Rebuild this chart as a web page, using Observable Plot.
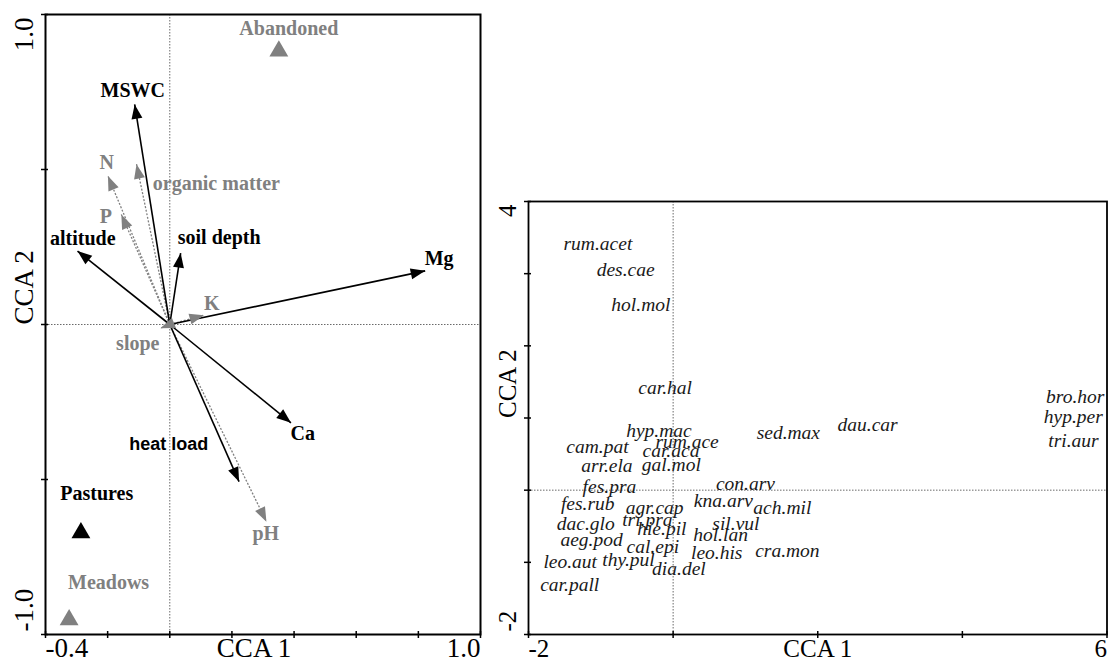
<!DOCTYPE html>
<html><head><meta charset="utf-8">
<script src="https://cdn.jsdelivr.net/npm/d3@7"></script>
<script src="https://cdn.jsdelivr.net/npm/@observablehq/plot@0.6"></script>
<style>
html,body{margin:0;padding:0;background:#fff;}
#wrap{position:relative;width:1108px;height:671px;overflow:hidden;background:#fff;}
#wrap svg{position:absolute;top:0;}
</style></head><body><div id="wrap"></div>
<script>
// ---------- Left panel: environmental variables (CCA biplot) ----------
const envNames = ["MSWC","N","organic matter","P","altitude","soil depth","Mg","K","slope","Ca","heat load","pH"];
const envCCA1 = [-0.113,-0.199,-0.107,-0.156,-0.297,0.035,0.822,0.11,-0.03,0.39,0.223,0.311];
const envCCA2 = [0.71,0.479,0.517,0.355,0.237,0.23,0.173,0.03,-0.012,-0.317,-0.507,-0.636];
const envSignificant = [true,false,false,false,true,true,true,false,false,true,true,false];
const envLabelCCA1 = [-0.119,-0.203,0.15,-0.206,-0.28,0.159,0.867,0.135,-0.103,0.428,-0.003,0.309];
const envLabelCCA2 = [0.753,0.521,0.456,0.347,0.276,0.279,0.211,0.069,-0.062,-0.353,-0.385,-0.676];

const siteNames = ["Abandoned","Pastures","Meadows"];
const siteCCA1 = [0.351,-0.286,-0.324];
const siteCCA2 = [0.882,-0.672,-0.953];
const siteSignificant = [false,true,false];
const siteLabelCCA1 = [0.383,-0.235,-0.197];
const siteLabelCCA2 = [0.956,-0.547,-0.834];

const leftXTicks = [-0.4,-0.2,0,0.2,0.4,0.6,0.8,1.0];
const leftYTicks = [-1,-0.5,0,0.5,1];
const leftXTickLabels = ["-0.4","1.0"];   // shown at first and last x tick
const leftYTickLabels = ["-1.0","1.0"];   // shown at first and last y tick

// ---------- Right panel: species scores ----------
const speciesNames = ["rum.acet","des.cae","hol.mol","car.hal","hyp.mac","sed.max","rum.ace","car.aca","cam.pat","arr.ela","gal.mol","fes.pra","con.arv","fes.rub","agr.cap","kna.arv","ach.mil","dac.glo","tri.pra","hie.pil","sil.vul","hol.lan","aeg.pod","cal.epi","leo.his","cra.mon","leo.aut","thy.pul","dia.del","car.pall","dau.car","bro.hor","hyp.per","tri.aur"];
const speciesCCA1 = [-1.04,-0.656,-0.446,-0.11,-0.196,1.593,0.193,-0.03,-1.047,-0.916,-0.025,-0.881,1.0,-1.181,-0.256,0.695,1.51,-1.209,-0.356,-0.156,0.868,0.656,-1.128,-0.28,0.603,1.58,-1.423,-0.617,0.08,-1.43,2.69,5.56,5.534,5.536];
const speciesCCA2 = [3.42,3.06,2.566,1.425,0.818,0.795,0.67,0.55,0.597,0.335,0.349,0.045,0.083,-0.193,-0.24,-0.148,-0.248,-0.469,-0.414,-0.538,-0.46,-0.617,-0.69,-0.782,-0.874,-0.837,-0.985,-0.966,-1.09,-1.306,0.91,1.30,1.011,0.68];

const rightXTicks = [-2,0,2,4,6];
const rightYTicks = [-2,-1,0,1,2,3,4];
const rightXTickLabels = ["-2","6"];
const rightYTickLabels = ["-2","4"];

// ---------- build ----------
const GRAY = "#808080";
const SERIF = "'Liberation Serif','Times New Roman',serif";
const env = envNames.map((name,i)=>({name,x:envCCA1[i],y:envCCA2[i],lx:envLabelCCA1[i],ly:envLabelCCA2[i],sig:envSignificant[i]}));
const sites = siteNames.map((name,i)=>({name,x:siteCCA1[i],y:siteCCA2[i],lx:siteLabelCCA1[i],ly:siteLabelCCA2[i],sig:siteSignificant[i]}));
const species = speciesNames.map((name,i)=>({name,x:speciesCCA1[i],y:speciesCCA2[i]}));

// filled arrow head whose apex is the anchor point (points up before rotation)
const head = {draw(ctx){ctx.moveTo(0,0);ctx.lineTo(-5.5,14.5);ctx.lineTo(5.5,14.5);ctx.closePath();}};
const angle = d => Math.atan2(d.x, d.y) * 180 / Math.PI;
const zero = () => 0;

function frameMarks(xTicks, yTicks, xLab, yLab, fs, labDx, frameW) {
  return [
    Plot.ruleX([0], {stroke:"#444", strokeWidth:0.8, strokeDasharray:"1.5,1.5"}),
    Plot.ruleY([0], {stroke:"#444", strokeWidth:0.8, strokeDasharray:"1.5,1.5"}),
    Plot.frame({stroke:"#000", strokeWidth:frameW}),
    Plot.axisX({ticks:xTicks, tickSize:4, tickFormat:()=>"", label:null, strokeWidth:1.5}),
    Plot.axisY({ticks:yTicks, tickSize:4, tickFormat:()=>"", label:null, strokeWidth:1.5}),
    Plot.axisX({ticks:xTicks, tickSize:-3, tickFormat:()=>"", label:null, strokeWidth:1.5}),
    Plot.axisY({ticks:yTicks, tickSize:-3, tickFormat:()=>"", label:null, strokeWidth:1.5}),
    Plot.text([0], {x:()=>xTicks[0], frameAnchor:"bottom", dy:22, text:()=>xLab[0], textAnchor:"start", fontSize:fs}),
    Plot.text([0], {x:()=>xTicks[xTicks.length-1], frameAnchor:"bottom", dy:22, text:()=>xLab[1], textAnchor:"end", fontSize:fs}),
    Plot.text([0], {y:()=>yTicks[0], frameAnchor:"left", dx:-21, dy:-3, rotate:-90, text:()=>yLab[0], textAnchor:"start", fontSize:fs}),
    Plot.text([0], {y:()=>yTicks[yTicks.length-1], frameAnchor:"left", dx:-21, dy:3, rotate:-90, text:()=>yLab[1], textAnchor:"end", fontSize:fs}),
    Plot.text(["CCA 1"], {frameAnchor:"bottom", dy:22, dx:labDx, text:d=>d, fontSize:fs}),
    Plot.text(["CCA 2"], {frameAnchor:"left", dx:-21, rotate:-90, text:d=>d, fontSize:fs})
  ];
}

const left = Plot.plot({
  width:490, height:671, marginLeft:45, marginRight:10, marginTop:14, marginBottom:37,
  x:{domain:[-0.4,1.0], axis:null, label:null},
  y:{domain:[-1,1], axis:null, label:null},
  style:{fontFamily:SERIF, background:"transparent", overflow:"visible", color:"#000"},
  marks:[
    ...frameMarks(leftXTicks, leftYTicks, leftXTickLabels, leftYTickLabels, 27, -9, 2),
    Plot.link(env.filter(d=>!d.sig), {x1:zero, y1:zero, x2:"x", y2:"y", stroke:GRAY, strokeWidth:1.3, strokeDasharray:"2,1.6"}),
    Plot.link(env.filter(d=>d.sig), {x1:zero, y1:zero, x2:"x", y2:"y", stroke:"#000", strokeWidth:1.6}),
    Plot.dot(env.filter(d=>!d.sig), {x:"x", y:"y", symbol:head, rotate:angle, fill:GRAY, stroke:"none"}),
    Plot.dot(env.filter(d=>d.sig), {x:"x", y:"y", symbol:head, rotate:angle, fill:"#000", stroke:"none"}),
    Plot.text(env.filter(d=>d.name!=="heat load"), {x:"lx", y:"ly", text:"name", fontWeight:"bold", fontSize:20, fill:d=>d.sig?"#000":GRAY}),
    Plot.text(env.filter(d=>d.name==="heat load"), {x:"lx", y:"ly", text:"name", fontWeight:"bold", fontSize:18, fontFamily:"'Liberation Sans',Arial,sans-serif", fill:"#000"}),
    Plot.dot(sites, {x:"x", y:"y", symbol:"triangle", r:7, fill:d=>d.sig?"#000":GRAY, stroke:"none"}),
    Plot.text(sites, {x:"lx", y:"ly", text:"name", fontWeight:"bold", fontSize:20, fill:d=>d.sig?"#000":GRAY})
  ]
});

const right = Plot.plot({
  width:618, height:671, marginLeft:38, marginRight:1.5, marginTop:201, marginBottom:37,
  x:{domain:[-2,6], axis:null, label:null},
  y:{domain:[-2,4], axis:null, label:null},
  style:{fontFamily:SERIF, background:"transparent", overflow:"visible", color:"#000"},
  marks:[
    ...frameMarks(rightXTicks, rightYTicks, rightXTickLabels, rightYTickLabels, 25, 0, 1.8),
    Plot.text(species, {x:"x", y:"y", text:"name", fontStyle:"italic", fontSize:19.5, fill:"#1a1a1a"})
  ]
});

const wrap = document.getElementById("wrap");
left.style.left = "0px";
right.style.left = "490px";
wrap.appendChild(left);
wrap.appendChild(right);
</script>
</body></html>
